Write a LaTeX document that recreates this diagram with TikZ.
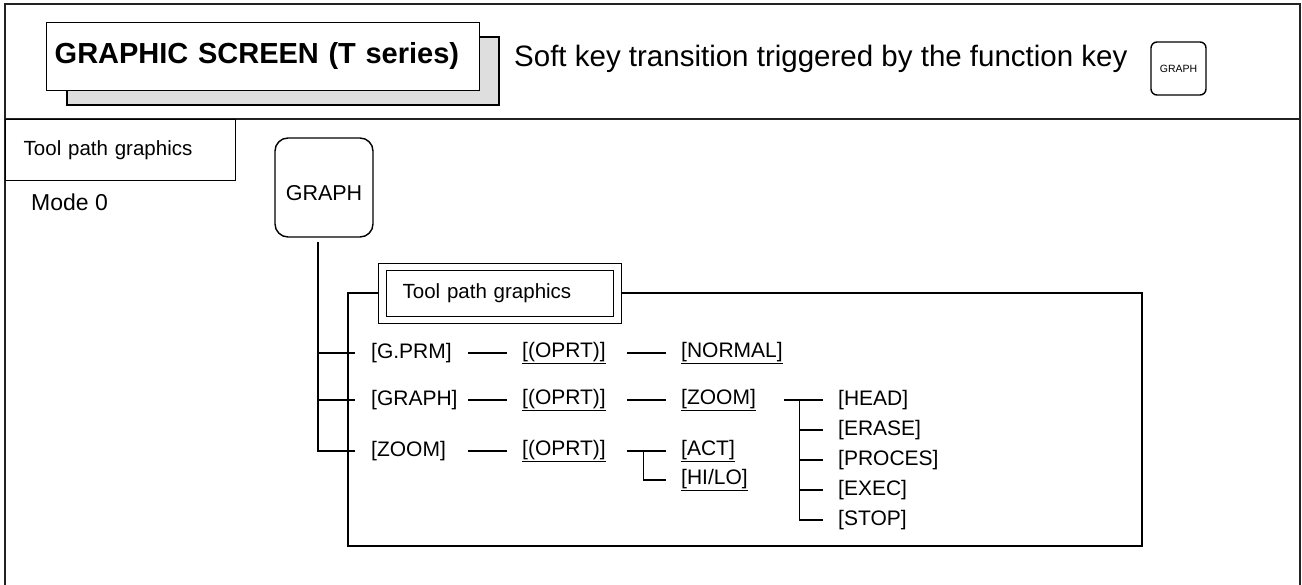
\documentclass[tikz,border=0pt]{standalone}
\usepackage{fontspec}
\setmainfont{Liberation Sans}
\usetikzlibrary{calc}
\newcommand{\sizept}[1]{\fontsize{#1}{#1}\selectfont}
\definecolor{shadowgray}{HTML}{DEDEDE}
\definecolor{inkgray}{HTML}{222222}
\begin{document}
\begin{tikzpicture}[x=1pt,y=-1pt,
  frameline/.style={line width=1.8pt, draw=inkgray},
  link/.style={line width=1.4pt},
  keycap/.style={draw, line width=1.4pt, rounded corners=#1},
  lbl/.style={anchor=west, inner sep=0pt, text width=#1, align=left, font=\sizept{21}},
  lbl/.default=82pt]
  \useasboundingbox (0,0) rectangle (1302,585);
  % header
  \draw[frameline] (5,585) -- (5,4) -- (1300,4) -- (1300,585);
  \draw[frameline] (5,119) -- (1300,119);
  \draw[link, fill=shadowgray] (67,37) rectangle (499,105);
  \node[draw, link, fill=white, anchor=north west, minimum width=433pt, minimum height=68pt,
    inner xsep=8pt, text width=417pt, align=left, font=\bfseries\sizept{29}] (title) at (46,22) {\raisebox{-6.4pt}[0pt][0pt]{GRAPHIC SCREEN (T series)}};
  \node[anchor=base west, inner sep=0pt, font=\sizept{29.5}] (softkey) at (514,67) {Soft key transition triggered by the function key};
  \node[keycap=6pt, minimum width=55pt, minimum height=53pt, inner sep=0pt, font=\sizept{10.5}] (fnkey) at (1178.5,68.5) {GRAPH};
  % left side
  \node[draw, link, anchor=north west, minimum width=230pt, minimum height=61pt,
    inner xsep=18pt, text width=194pt, align=left, font=\sizept{20.5}] (modebox) at (5,119) {Tool path graphics};
  \node[anchor=base west, inner sep=0pt, font=\sizept{23}] (mode) at (31,211) {Mode 0};
  \node[keycap=13pt, minimum width=98pt, minimum height=99pt, font=\sizept{21.5}] (graphkey) at (324,187.5) {\raisebox{-13.2pt}[0pt][0pt]{GRAPH}};
  % soft key tree
  \draw[link] (348,293) rectangle (1142,546);
  \node[draw, double, double distance=6.5pt, line width=1.2pt, fill=white, anchor=west, minimum height=53pt,
    inner xsep=20pt, text width=195pt, align=left, font=\sizept{20.5}] (tpgbox) at (382,293.5) {Tool path graphics};
  \foreach \n/\t/\y in {gprm/{[G.PRM]}/353, graphA/{[GRAPH]}/400, zoomA/{[ZOOM]}/451}
    \node[lbl] (\n) at (371,\y) {\t};
  \foreach \n/\y in {A/353, B/400, C/451}
    \node[lbl=90pt] (oprt\n) at (522,\y) {\underline{[(OPRT)]}};
  \node[lbl=103pt] (normal) at (681,353) {\underline{[NORMAL]}};
  \node[lbl=103pt] (zoomB) at (681,400) {\underline{[ZOOM]}};
  \node[lbl] (act) at (681,451) {\underline{[ACT]}};
  \node[lbl] (hilo) at (681,480) {\underline{[HI/LO]}};
  \foreach \n/\t/\y in {head/HEAD/400, erase/ERASE/430, proces/PROCES/460, exec/EXEC/490, stop/STOP/520}
    \node[lbl] (\n) at (838,\y) {[\t]};
  % connectors
  \coordinate (trunk) at ([xshift=-6pt,yshift=-4pt]graphkey.south);
  \draw[link] (trunk) |- ([xshift=-16pt]zoomA.west);
  \foreach \r in {gprm, graphA}
    \draw[link] (trunk |- \r.west) -- ([xshift=-16pt]\r.west);
  \foreach \a/\b in {gprm/oprtA, graphA/oprtB, zoomA/oprtC, oprtA/normal, oprtB/zoomB}
    \draw[link] ([xshift=15pt]\a.east) -- ([xshift=-15pt]\b.west);
  \coordinate (forkA) at ([xshift=15pt]oprtC.east);
  \draw[link] (forkA) -- ([xshift=-15pt]act.west);
  \draw[link] ([xshift=16pt]forkA) |- ([xshift=-15pt]hilo.west);
  \coordinate (forkB) at (zoomB.east);
  \draw[link] (forkB) -- ([xshift=-15pt]head.west);
  \draw[link] ([xshift=15pt]forkB) |- ([xshift=-15pt]stop.west);
  \foreach \l in {erase, proces, exec}
    \draw[link] ([xshift=15pt]forkB |- \l.west) -- ([xshift=-15pt]\l.west);
\end{tikzpicture}
\end{document}
